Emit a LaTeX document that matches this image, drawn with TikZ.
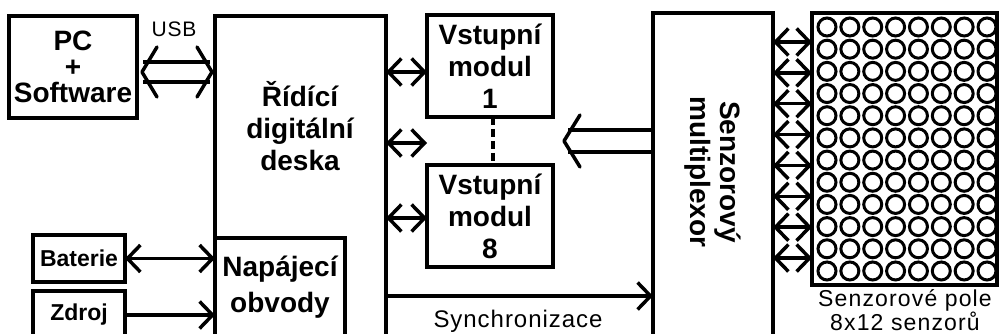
\documentclass[tikz,border=0pt]{standalone}
\usepackage{fontspec}
\setmainfont{Liberation Sans}
\usetikzlibrary{arrows.meta, calc}

\tikzset{
  box/.style={draw, line width=3.5pt, inner sep=0pt, outer sep=0pt},
  boldlbl/.style={font=\fontsize{28}{32}\selectfont\bfseries, align=center},
  plainlbl/.style={font=\fontsize{24}{21}\selectfont\addfontfeature{LetterSpace=4}, align=center},
  link/.style={line width=3.5pt},
  hollow/.style={line width=3.5pt, line join=round, line cap=round},
  sensor/.style={line width=3pt},
  biarrow/.style={line width=3.5pt, {Straight Barb[length=13pt,width=27pt]}-{Straight Barb[length=13pt,width=27pt]}},
  onearrow/.style={line width=3.5pt, -{Straight Barb[length=13pt,width=27pt]}},
}

\begin{document}
\begin{tikzpicture}[x=1pt, y=-1pt]
    \useasboundingbox (0,0) rectangle (999,334);
    \clip (0,0) rectangle (999,334);

    % Blocks
    \node[box, minimum width=128pt, minimum height=102pt, align=center, font=\fontsize{28}{26}\selectfont\bfseries] (pc) at (73,67) {PC\\+\\Software};
    \node[box, anchor=north west, minimum width=171pt, minimum height=340pt] (rdd) at (215,16) {};
    \node[boldlbl] (rddlbl) at (300,126) {Řídící\\digitální\\deska};
    \node[box, anchor=north west, minimum width=130pt, minimum height=120pt] (nap) at (215,238) {};
    \node[boldlbl, font=\fontsize{28}{36}\selectfont\bfseries] (naplbl) at (280,287) {Napájecí\\obvody};
    \node[box, minimum width=92pt, minimum height=47pt, font=\fontsize{23}{26}\selectfont\bfseries] (bat) at (79,258.5) {Baterie};
    \node[box, minimum width=92pt, minimum height=48pt, font=\fontsize{23}{26}\selectfont\bfseries] (zdr) at (79,315) {Zdroj};
    \node[box, boldlbl, minimum width=126pt, minimum height=102pt] (mod1) at (490,66) {Vstupní\\modul\\1};
    \node[box, boldlbl, minimum width=126pt, minimum height=102pt] (mod8) at (490,216) {Vstupní\\modul\\8};
    \node[box, anchor=north west, minimum width=120pt, minimum height=340pt] (mux) at (653,13) {};
    \node[boldlbl, rotate=-90, font=\fontsize{28}{30}\selectfont\bfseries] (muxlbl) at (713,172) {Senzorový\\multiplexor};
    \node[box, anchor=north west, minimum width=185pt, minimum height=272pt] (arr) at (812,13) {};

    % Sensor grid 8x12
    \foreach \i in {0,...,11} {
        \foreach \j in {0,...,7} {
            \draw[sensor] ($(arr.north west)+(15+22.86*\j,14+22.18*\i)$) circle (9pt);
        }
    }

    % Labels
    \node[plainlbl, font=\fontsize{21}{21}\selectfont\addfontfeature{LetterSpace=4}, anchor=base] (usb) at (174,37) {USB};
    \node[plainlbl, anchor=base] (sync) at (518,327) {Synchronizace};
    \node[plainlbl, font=\fontsize{23}{20}\selectfont\addfontfeature{LetterSpace=5}] (arrlbl) at (905,310) {Senzorové pole\\8x12 senzorů};

    % USB link
    \coordinate (usbL) at (pc.east |- 0,72);
    \coordinate (usbR) at (rdd.west |- 0,72);
    \draw[link] ($(usbL)+(6,-10)$) -- ($(usbR)+(-5,-10)$);
    \draw[link] ($(usbL)+(6,10)$) -- ($(usbR)+(-5,10)$);
    \draw[hollow] ($(usbL)+(20,-25)$) -- ($(usbL)+(5,0)$) -- ($(usbL)+(20,25)$);
    \draw[hollow] ($(usbR)+(-18,-25)$) -- ($(usbR)+(-3,0)$) -- ($(usbR)+(-18,25)$);

    % Multiplexor to modules
    \coordinate (muxin) at (mux.west |- 0,141);
    \coordinate (muxtip) at (564,141);
    \draw[link] ($(muxtip)+(4,-11)$) -- ($(muxin)+(0,-11)$);
    \draw[link] ($(muxtip)+(4,11)$) -- ($(muxin)+(0,11)$);
    \draw[hollow] ($(muxtip)+(16,-26)$) -- (muxtip) -- ($(muxtip)+(16,26)$);

    % Board to modules
    \coordinate (m1in) at (mod1.west |- 0,72);
    \coordinate (midin) at (mod1.west |- 0,143);
    \coordinate (m8in) at (mod8.west |- 0,218);
    \draw[biarrow] (rdd.east |- m1in) -- (m1in);
    \draw[biarrow] (rdd.east |- midin) -- (midin);
    \draw[biarrow] (rdd.east |- m8in) -- (m8in);
    \draw[link, dash pattern=on 8pt off 4pt] ([xshift=3pt]mod1.south) -- ([xshift=3pt]mod8.north);

    % Power
    \draw[biarrow] (bat.east) -- (rdd.west |- bat.east);
    \draw[onearrow] (zdr.east) -- (rdd.west |- zdr.east);

    % Synchronisation
    \coordinate (syncin) at (mux.west |- 0,296);
    \draw[onearrow] (rdd.east |- syncin) -- (syncin);

    % Multiplexor to sensor array
    \foreach \k in {0,...,7} {
        \coordinate (row\k) at ($(arr.north west)+(0,29+30.86*\k)$);
        \draw[biarrow] (mux.east |- row\k) -- (row\k);
    }
\end{tikzpicture}
\end{document}
